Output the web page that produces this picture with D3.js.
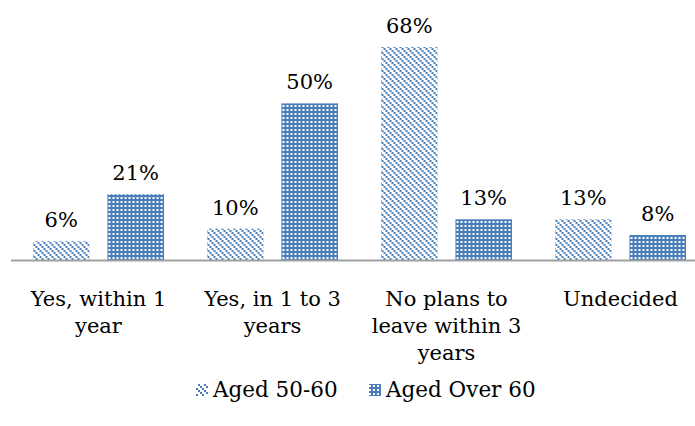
<!DOCTYPE html>
<html>
<head>
<meta charset="utf-8">
<script src="https://cdn.jsdelivr.net/npm/d3@7"></script>
<style>
  html, body { margin: 0; padding: 0; background: #fff; }
  svg { display: block; }
  text { font-family: "DejaVu Serif", serif; fill: #000; }
</style>
</head>
<body>
<svg id="chart" width="695" height="426"></svg>
<script>
// Survey answers about plans to leave, by age group
const categories = [
  ["Yes, within 1", "year"],
  ["Yes, in 1 to 3", "years"],
  ["No plans to", "leave within 3", "years"],
  ["Undecided"]
];
const seriesNames = ["Aged 50-60", "Aged Over 60"];
const aged50to60 = [6, 10, 68, 13];
const agedOver60 = [21, 50, 13, 8];

const blue = "#4a7ebb";
const svg = d3.select("#chart");

// Fill patterns: dotted diagonal hatch and a blue field with a white dot grid
const defs = svg.append("defs");
const hatch = defs.append("pattern")
  .attr("id", "hatch").attr("patternUnits", "userSpaceOnUse")
  .attr("width", 6).attr("height", 6);
hatch.append("rect").attr("width", 6).attr("height", 6).attr("fill", "#fff");
[0, 2, 4].forEach(k => {
  hatch.append("rect").attr("x", k).attr("y", k).attr("width", 2).attr("height", 2).attr("fill", blue);
});
const grid = defs.append("pattern")
  .attr("id", "grid").attr("patternUnits", "userSpaceOnUse")
  .attr("width", 4).attr("height", 4);
grid.append("rect").attr("width", 4).attr("height", 4).attr("fill", blue);
grid.append("rect").attr("x", 1).attr("y", 1).attr("width", 2).attr("height", 2).attr("fill", "#fff");

const fills = ["url(#hatch)", "url(#grid)"];
const seriesValues = [aged50to60, agedOver60];

const x0 = d3.scaleBand().domain(d3.range(categories.length)).range([11.5, 707.5]);
const x1 = d3.scaleBand().domain([0, 1]).range([21.5, 152.5]).paddingInner(0.24);
const y = d3.scaleLinear().domain([0, 68]).range([260, 47]);

const groups = svg.append("g").selectAll("g")
  .data(categories.map((c, i) => i))
  .join("g")
  .attr("transform", i => `translate(${x0(i)},0)`);

groups.selectAll("rect")
  .data(i => seriesValues.map((vals, s) => ({ s, v: vals[i] })))
  .join("rect")
  .attr("x", d => x1(d.s))
  .attr("width", x1.bandwidth())
  .attr("y", d => y(d.v))
  .attr("height", d => y(0) - y(d.v))
  .attr("fill", d => fills[d.s]);

groups.selectAll("text.val")
  .data(i => seriesValues.map((vals, s) => ({ s, v: vals[i] })))
  .join("text")
  .attr("class", "val")
  .attr("x", d => x1(d.s) + x1.bandwidth() / 2)
  .attr("y", d => y(d.v) - 14)
  .attr("text-anchor", "middle")
  .attr("font-size", 21)
  .text(d => d.v + "%");

// Baseline
svg.append("line")
  .attr("x1", 11).attr("x2", 695)
  .attr("y1", y(0) + 0.5).attr("y2", y(0) + 0.5)
  .attr("stroke", "#a0a0a0").attr("stroke-width", 2);

// Category labels
groups.append("text")
  .attr("text-anchor", "middle")
  .attr("x", x0.bandwidth() / 2)
  .attr("font-size", 21)
  .selectAll("tspan")
  .data(i => categories[i])
  .join("tspan")
  .attr("x", x0.bandwidth() / 2)
  .attr("y", (d, k) => 306 + k * 27)
  .text(d => d);

// Legend
const legend = svg.append("g");
const legendX = [196, 369];
seriesNames.forEach((name, s) => {
  legend.append("rect")
    .attr("x", legendX[s]).attr("y", 384)
    .attr("width", 12).attr("height", 12)
    .attr("fill", fills[s]);
  legend.append("text")
    .attr("x", legendX[s] + 17).attr("y", 397)
    .attr("font-size", 21.5)
    .text(name);
});
</script>
</body>
</html>
